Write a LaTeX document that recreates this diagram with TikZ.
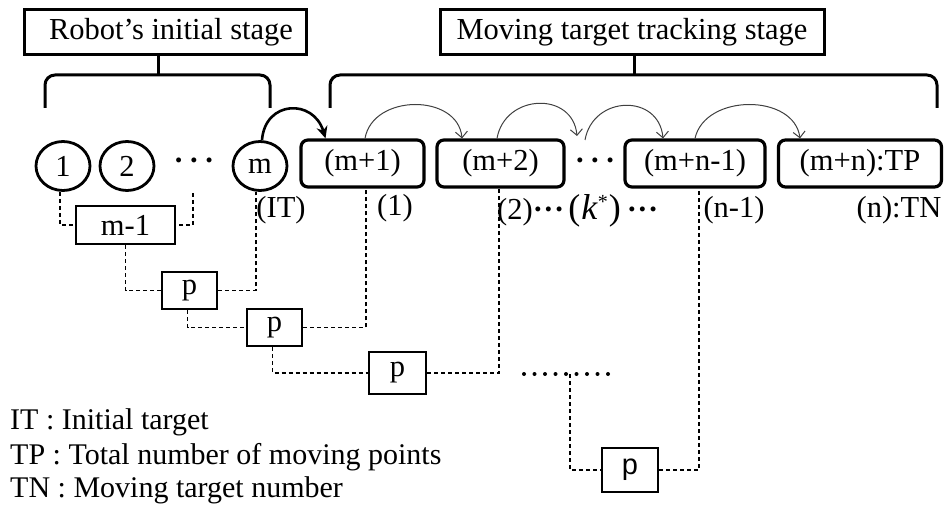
\documentclass[tikz,border=0pt]{standalone}
\usepackage{fontspec}
\setmainfont{Liberation Serif}
\newfontfamily\sansp{Liberation Sans}
\usetikzlibrary{shapes.geometric,arrows.meta}
\newcommand{\mydots}{\textbf{·}\hspace{5pt}\textbf{·}\hspace{5pt}\textbf{·}}
\newcommand{\mysmalldots}{\textbf{·}\hspace{0.5pt}\textbf{·}\hspace{0.5pt}\textbf{·}}
\newcommand{\kstar}{{\fontsize{36}{40}\selectfont(\hspace{1pt}\textit{k}\raisebox{11pt}{\fontsize{20}{20}\selectfont *}\hspace{1pt})}}
\tikzset{
  bigfont/.style={font=\fontsize{30.5}{35}\selectfont},
  titlebox/.style={draw,line width=3pt,rectangle,minimum height=45pt,inner sep=0pt,bigfont},
  bracketline/.style={line width=3pt,rounded corners=10pt},
  stagecircle/.style={draw,line width=2.8pt,ellipse,minimum width=54pt,minimum height=49pt,inner sep=0pt,bigfont},
  stagebox/.style={draw,line width=3.2pt,rectangle,rounded corners=7pt,minimum height=47pt,inner sep=0pt,bigfont},
  pbox/.style={draw,line width=2.2pt,rectangle,inner sep=0pt,bigfont},
  lbl/.style={inner sep=0pt,bigfont},
  dashline/.style={line width=1.2pt,dash pattern=on 4pt off 3pt},
  bigarrow/.style={line width=2.6pt,-{Stealth[length=12pt,width=11pt]}},
  thinarrow/.style={line width=1pt,draw=black!75,-{Straight Barb[length=6pt,width=12pt]}},
  legend/.style={anchor=west,inner sep=0pt,font=\fontsize{30}{35}\selectfont}
}
\begin{document}
\begin{tikzpicture}[x=1pt,y=-1pt]
\useasboundingbox (0,0) rectangle (947,510);
% titles
\node[titlebox,minimum width=282pt] (t1) at (165,32.5) {\hspace{12pt}Robot's initial stage};
\node[titlebox,minimum width=384pt] (t2) at (632,32.5) {Moving target tracking stage};
% brackets
\coordinate (br1) at (158,75);
\coordinate (br2) at (634,75);
\draw[line width=3pt] (br1 |- t1.south) -- (br1);
\draw[line width=3pt] (br2 |- t2.south) -- (br2);
\draw[bracketline] (45,108) -- (45,75) -- (270,75) -- (270,108);
\draw[bracketline] (330,108) -- (330,75) -- (937,75) -- (937,108);
% circles
\node[stagecircle] (c1) at (63,166) {1};
\node[stagecircle] (c2) at (127,166) {2};
\node[lbl] (d1) at (194,164) {\mydots};
\node[stagecircle] (cm) at (260,166) {m};
% boxes
\node[stagebox,minimum width=123pt] (b1) at (362.5,163.5) {(m+1)};
\node[stagebox,minimum width=127pt] (b2) at (500.5,163.5) {(m+2)};
\node[lbl] (d2) at (595,164) {\mydots};
\node[stagebox,minimum width=140pt] (b3) at (695,163.5) {(m+n-1)};
\node[stagebox,minimum width=163pt] (b4) at (860,163.5) {(m+n):TP};
% labels under
\node[lbl] (lit) at (281,210) {(IT)};
\node[lbl] (l1) at (395,208) {(1)};
\node[lbl,anchor=west] (l2) at (497,211) {(2)\mysmalldots\hspace{4pt}\kstar\hspace{6pt}\mysmalldots};
\node[lbl] (ln1) at (734,210) {(n-1)};
\node[lbl] (lnt) at (899,210) {(n):TN};
% p boxes
\node[pbox,minimum width=99pt,minimum height=38pt] (m1) at (125.5,225) {m-1};
\node[pbox,minimum width=55pt,minimum height=37pt] (p1) at (189.5,290.5) {p};
\node[pbox,minimum width=55pt,minimum height=37pt] (p2) at (274.5,327.5) {p};
\node[pbox,minimum width=57pt,minimum height=42pt] (p3) at (397.5,373) {p};
\node[pbox,minimum width=56pt,minimum height=44pt,font=\sansp\fontsize{29}{34}\selectfont] (p4) at (630,470) {p};
% dashed tree
\coordinate (dd1) at (193,193);
\draw[dashline] ([xshift=-3pt]c1.south) |- (m1.west);
\draw[dashline] (dd1) |- (m1.east);
\draw[dashline] (m1.south) |- (p1.west);
\draw[dashline] (p1.east) -| ([xshift=-4pt]cm.south);
\draw[dashline] ([xshift=-2pt]p1.south) |- (p2.west);
\draw[dashline] (p2.east) -| ([xshift=3.5pt]b1.south);
\draw[dashline] ([xshift=-2pt]p2.south) |- (p3.west);
\draw[dashline] (p3.east) -| ([xshift=-1.5pt]b2.south);
\coordinate (dl) at (524,374);
\coordinate (dr) at (617,374);
\coordinate (dm) at (570,374);
\draw[line width=4pt,line cap=round,dash pattern=on 0pt off 10.5pt] (dl) -- (dr);
\draw[dashline] (dm) |- (p4.west);
\draw[dashline] (p4.east) -| ([xshift=4pt]b3.south);
% arrows
\draw[bigarrow] ([xshift=2pt]cm.north) .. controls +(3,-40) and +(-12,-40) .. ([xshift=-37pt]b1.north);
\coordinate (a2e) at (577,136);
\coordinate (a3s) at (585,140);
\draw[thinarrow] ([xshift=2.5pt]b1.north) .. controls +(8,-45) and +(-4,-45) .. ([xshift=-38.5pt]b2.north);
\draw[thinarrow] ([xshift=-3.5pt]b2.north) .. controls +(8,-45) and +(-4,-45) .. (a2e);
\draw[thinarrow] (a3s) .. controls +(8,-45) and +(-4,-45) .. ([xshift=-32pt]b3.north);
\draw[thinarrow] (b3.north) .. controls +(10,-45) and +(-6,-45) .. ([xshift=-60pt]b4.north);
% legend
\node[legend] (lg1) at (10,422) {IT : Initial target};
\node[legend] (lg2) at (10,457) {TP : Total number of moving points};
\node[legend] (lg3) at (10,490) {TN : Moving target number};
\end{tikzpicture}
\end{document}
